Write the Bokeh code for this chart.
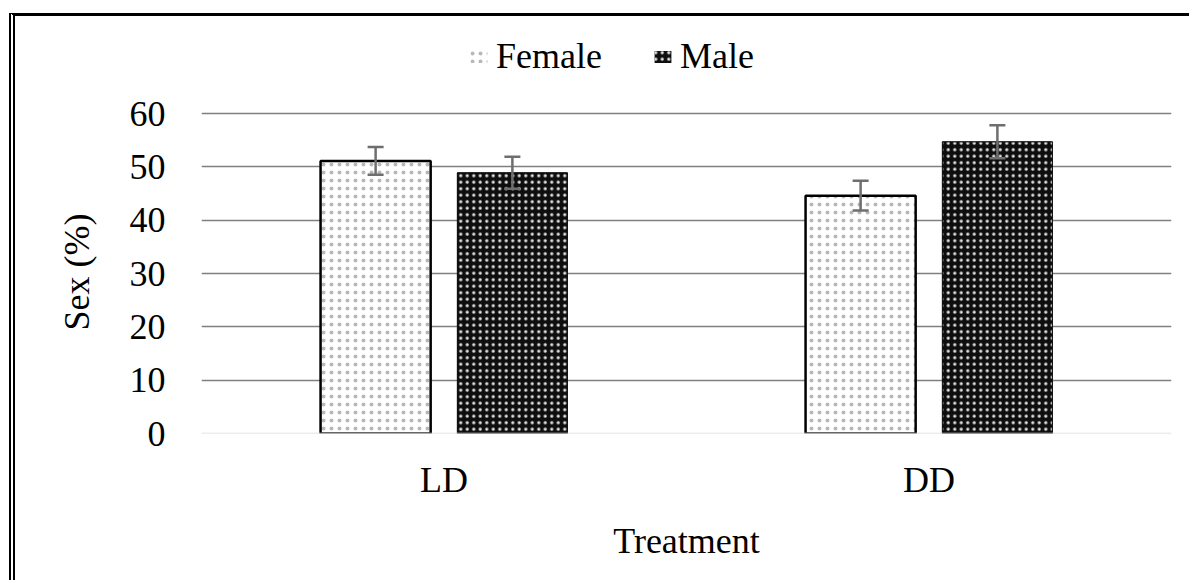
from bokeh.plotting import figure
from bokeh.models import (ColumnDataSource, FactorRange, Whisker, TeeHead, Legend, LegendItem,
                          FixedTicker, Span, Range1d)
from bokeh.transform import dodge
from bokeh.embed import file_html
from bokeh.resources import INLINE

categories = ["LD", "DD"]
female = [51.1, 44.6]
male = [48.9, 54.7]
female_err = [2.6, 2.8]
male_err = [3.0, 3.1]
y_ticks = [0, 10, 20, 30, 40, 50, 60]

FONT = "Liberation Serif"
FS = "36px"
NBSP = "\u00a0"

src = ColumnDataSource(dict(
    cat=categories,
    female=female,
    male=male,
    f_up=[v + e for v, e in zip(female, female_err)],
    f_lo=[v - e for v, e in zip(female, female_err)],
    m_up=[v + e for v, e in zip(male, male_err)],
    m_lo=[v - e for v, e in zip(male, male_err)],
))

# frame extends up to the top so the legend can live inside it
p = figure(width=1180, height=567, x_range=FactorRange(factors=categories),
           y_range=Range1d(0, 77.44), output_backend="svg", toolbar_location=None,
           min_border_left=186, min_border_right=24, min_border_top=4,
           min_border_bottom=150)
p.outline_line_color = None
p.background_fill_color = "white"
p.styles = {"border-top": "3px solid black", "border-left": "6px double black",
            "margin-left": "9px", "margin-top": "13px"}

off = 0.141
bw = 0.227
FEM = dict(fill_color="white", hatch_pattern="dot", hatch_color="#b8b8b8",
           hatch_scale=8, hatch_weight=1.0)
MAL = dict(fill_color="#0e0e0e", hatch_pattern="dot", hatch_color="#e0e0e0",
           hatch_scale=6.5, hatch_weight=1.0)

# legend proxies: same bars, drawn underneath the visible ones, without outline
lf = p.vbar(x=dodge("cat", -off, range=p.x_range), top="female", width=bw, source=src,
            line_color=None, level="underlay", **FEM)
lm = p.vbar(x=dodge("cat", off, range=p.x_range), top="male", width=bw, source=src,
            line_color=None, level="underlay", **MAL)

p.vbar(x=dodge("cat", -off, range=p.x_range), top="female", width=bw, source=src,
       line_color="black", line_width=2.5, **FEM)
p.vbar(x=dodge("cat", off, range=p.x_range), top="male", width=bw, source=src,
       line_color="#0e0e0e", line_width=1, **MAL)

for base_off, up, lo in [(-off, "f_up", "f_lo"), (off, "m_up", "m_lo")]:
    w = Whisker(base=dodge("cat", base_off, range=p.x_range), upper=up, lower=lo, source=src,
                line_color="#6e6e6e", line_width=2.5, level="overlay",
                upper_head=TeeHead(size=16, line_color="#6e6e6e", line_width=2.5),
                lower_head=TeeHead(size=16, line_color="#6e6e6e", line_width=2.5))
    p.add_layout(w)

legend = Legend(items=[LegendItem(label="Female", renderers=[lf]),
                       LegendItem(label="Male", renderers=[lm])],
                orientation="horizontal", location=(267, 356),
                label_text_font=FONT, label_text_font_size=FS, label_text_color="black",
                glyph_width=21, glyph_height=15, label_standoff=7, spacing=50,
                padding=0, margin=0, border_line_color=None, background_fill_alpha=0)
p.add_layout(legend, "center")

# grid
p.xgrid.grid_line_color = None
p.ygrid.ticker = FixedTicker(ticks=y_ticks[1:])
p.ygrid.grid_line_color = "#808080"
p.ygrid.grid_line_width = 1.4
p.add_layout(Span(location=0, dimension="width", line_color="#d9d9d9", line_width=1.5))

# axes
p.yaxis.ticker = FixedTicker(ticks=y_ticks)
for ax in (p.xaxis[0], p.yaxis[0]):
    ax.axis_line_color = None
    ax.major_tick_line_color = None
    ax.minor_tick_line_color = None
    ax.major_tick_out = 0
    ax.major_tick_in = 0
    ax.major_label_text_font = FONT
    ax.major_label_text_font_size = FS
    ax.major_label_text_color = "black"
    ax.axis_label_text_font = FONT
    ax.axis_label_text_font_size = FS
    ax.axis_label_text_font_style = "normal"
    ax.axis_label_text_color = "black"
p.yaxis.major_label_standoff = 36
p.xaxis.major_label_standoff = 26
p.xaxis.axis_label = "Treatment"
p.yaxis.axis_label = "Sex (%)" + NBSP * 10
p.xaxis.axis_label_standoff = 18
p.yaxis.axis_label_standoff = 30

open("out.html", "w").write(file_html(p, INLINE))
